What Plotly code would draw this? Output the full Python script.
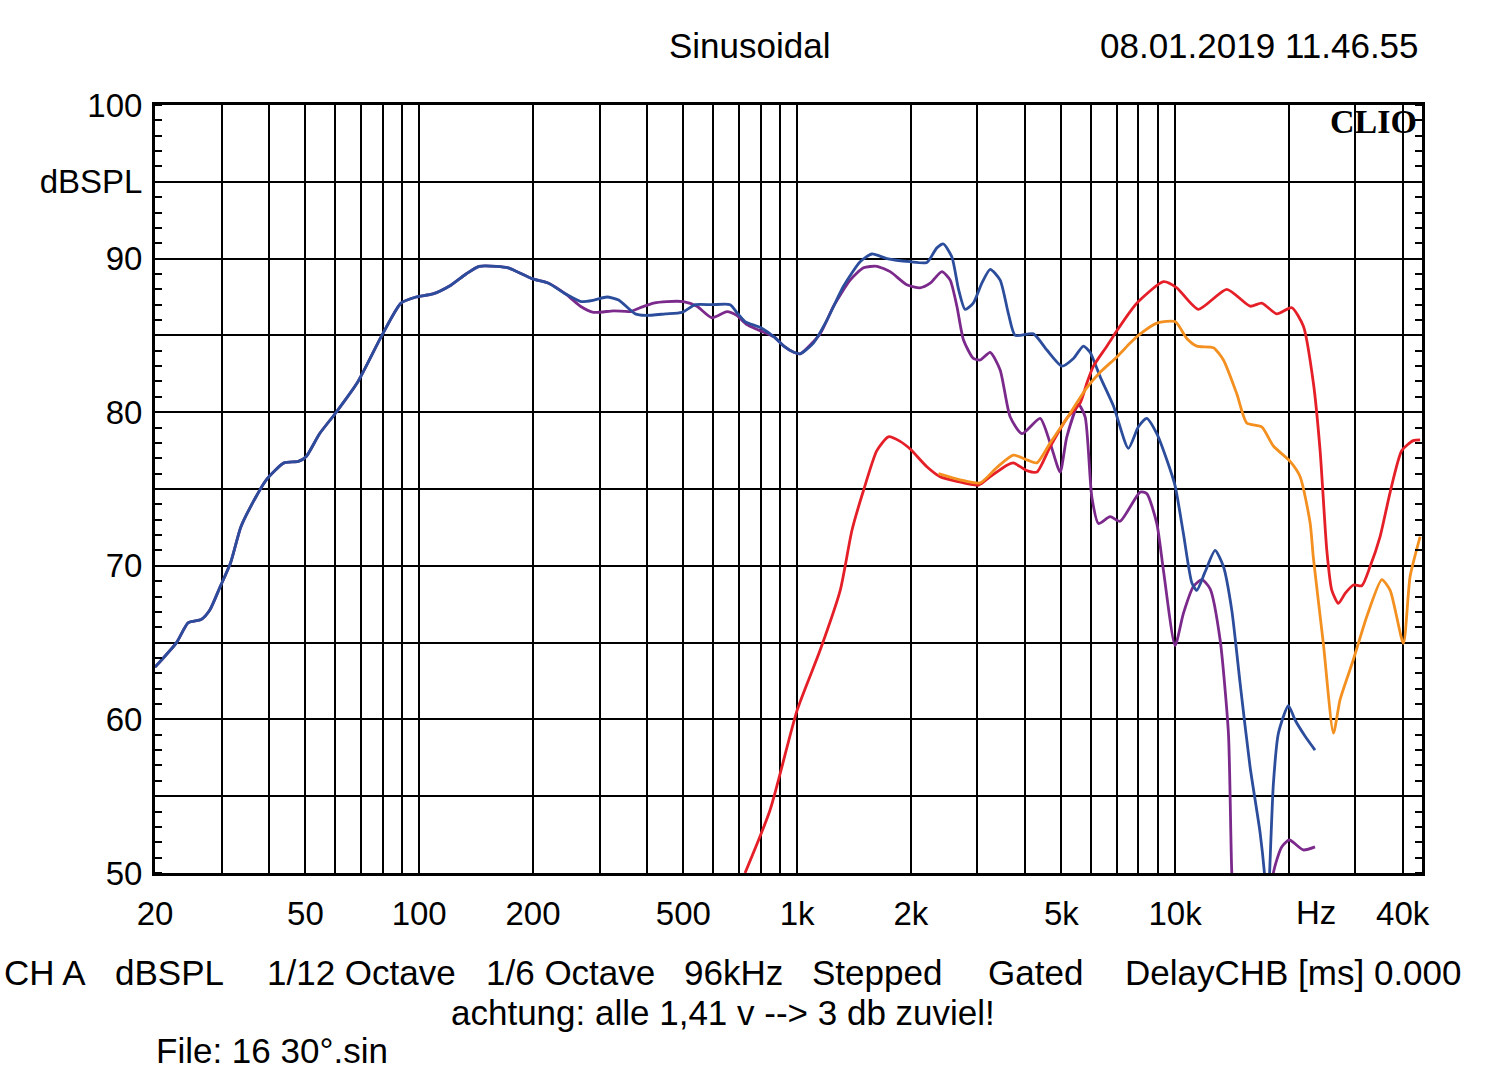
import numpy as np
import plotly.graph_objects as go

# ---------------- data ----------------
blue_f = [20, 22.8, 24.5, 26.5, 27.9, 29.7, 31.7, 33.7, 35.9, 39.4, 43.9, 47.9, 50.2, 54.5, 59.9,
          68.9, 79.3, 89.5, 98.1, 108.7, 120, 133, 144, 160, 172, 198.7, 220, 244, 268, 290, 314,
          337, 373, 397, 448, 496, 538, 594, 665, 692, 728, 802, 869, 922, 980,
          1018, 1104, 1199, 1326, 1468, 1577, 1727, 1991, 2204, 2342, 2438, 2567, 2673, 2782,
          2924, 3081, 3241, 3444, 3623, 3774, 4219, 4578, 5015, 5383, 5719, 5956, 6335, 6870,
          7522, 7995, 8415, 8946, 9506, 10000, 10518, 11070, 11411, 12004, 12757, 13423, 14125,
          14859, 15790, 16787, 17300, 17550, 17750, 18197, 18763, 19937, 20773, 22080, 23450]
blue_db = [63.4, 65.0, 66.3, 66.5, 67.1, 68.6, 70.2, 72.5, 73.9, 75.6, 76.7, 76.8, 77.1, 78.6, 79.9,
           82.0, 84.9, 87.1, 87.5, 87.7, 88.2, 89.0, 89.5, 89.5, 89.4, 88.7, 88.4, 87.7, 87.2, 87.3, 87.5,
           87.3, 86.4, 86.3, 86.4, 86.5, 87.0, 87.0, 87.0, 86.5, 85.9, 85.5, 84.9, 84.3, 83.9,
           83.8, 84.5, 86.0, 88.2, 89.8, 90.3, 90.0, 89.8, 89.75, 90.7, 90.95, 90.1, 88.0, 86.7,
           87.1, 88.4, 89.3, 88.6, 86.4, 85.0, 85.1, 84.05, 83.0, 83.5, 84.3, 83.9, 82.3, 80.4,
           77.65, 79.05, 79.6, 78.6, 76.9, 75.2, 72.1, 68.9, 68.4, 69.6, 71.0, 69.95, 67.1,
           62.35, 56.9, 52.6, 49.5, 47.0, 49.5, 55.8, 59.1, 60.9, 59.96, 58.9, 58.0]

purple_f = [20, 22.8, 24.5, 26.5, 27.9, 29.7, 31.7, 33.7, 35.9, 39.4, 43.9, 47.9, 50.2, 54.5, 59.9,
            68.9, 79.3, 89.5, 98.1, 108.7, 120, 133, 144, 160, 172, 198.7, 220, 244,
            267, 289, 327, 362, 384, 417, 452, 500, 543, 595, 652, 692, 736, 782, 869, 922, 980,
            1018, 1150, 1248, 1381, 1498, 1625, 1762, 1950, 2115, 2249, 2415, 2540, 2646, 2755,
            2926, 3050, 3241, 3444, 3660, 3930, 4395, 4670, 4963, 5170, 5550, 5780, 6019, 6268,
            6730, 7151, 8081, 8415, 8946, 9313, 10000, 10518, 11179, 11765, 12377, 13151, 13838,
            14125, 14600, 17700, 18197, 19142, 20062, 21840, 23450]
purple_db = [63.4, 65.0, 66.3, 66.5, 67.1, 68.6, 70.2, 72.5, 73.9, 75.6, 76.7, 76.8, 77.1, 78.6, 79.9,
             82.0, 84.9, 87.1, 87.5, 87.7, 88.2, 89.0, 89.5, 89.5, 89.4, 88.7, 88.4, 87.7,
             86.9, 86.5, 86.6, 86.55, 86.8, 87.1, 87.2, 87.2, 86.9, 86.15, 86.55, 86.3, 85.7, 85.4, 84.9, 84.3, 83.9,
             83.8, 85.1, 86.9, 88.6, 89.4, 89.5, 89.15, 88.3, 88.1, 88.4, 89.15, 88.6, 86.9, 84.7,
             83.5, 83.4, 83.9, 82.75, 79.7, 78.6, 79.6, 78.0, 76.1, 78.4, 80.5, 79.7, 74.5, 72.75,
             73.2, 72.9, 74.8, 74.7, 72.75, 69.7, 64.8, 66.9, 68.65, 69.1, 68.5, 65.2, 59.1,
             50.0, 44.0, 44.0, 50.0, 51.7, 52.15, 51.5, 51.7]

red_f = [728, 848, 1000, 1150, 1300, 1396, 1498, 1625, 1744, 1873, 1991, 2204, 2389, 2646, 3018,
         3241, 3589, 3734, 4053, 4306, 4670, 5170, 5607, 5842, 6080, 6598, 7012, 7604, 7995, 9313,
         10104, 11523, 13700, 15790, 16950, 18580, 20357, 21850, 23220, 24190, 25200, 25980, 27040,
         28170, 29630, 31190, 32800, 34860, 37070, 39790, 42670, 44490]
red_db = [50.0, 54.1, 60.6, 64.5, 68.4, 72.3, 74.9, 77.5, 78.4, 78.1, 77.6, 76.45, 75.8, 75.5, 75.25,
          75.8, 76.55, 76.7, 76.2, 76.1, 77.75, 79.6, 80.6, 81.9, 83.0, 84.3, 85.3, 86.55, 87.2, 88.5,
          88.1, 86.7, 88.0, 86.9, 87.1, 86.4, 86.8, 85.6, 81.9, 77.5, 71.0, 68.4, 67.55,
          68.2, 68.75, 68.7, 69.95, 71.9, 74.8, 77.5, 78.15, 78.2]

orange_f = [2365, 2700, 3050, 3375, 3734, 4053, 4306, 4670, 5170, 5842, 6335, 7012, 7604, 7995,
            8946, 10000, 10738, 11411, 12630, 13423, 14560, 15475, 16950, 18197, 20150, 21420,
            22760, 23220, 24670, 26240, 27330, 29630, 32150, 35230, 37070, 40180, 41850, 44490]
orange_db = [76.0, 75.6, 75.4, 76.4, 77.2, 76.9, 76.7, 78.0, 79.6, 81.6, 82.6, 83.6, 84.5, 85.0,
             85.8, 85.9, 84.8, 84.3, 84.2, 83.4, 81.2, 79.3, 79.05, 77.8, 76.8, 75.8,
             72.8, 70.5, 64.95, 59.1, 61.3, 63.9, 66.7, 69.1, 68.4, 64.95, 69.3, 71.9]

x_grid = [20, 30, 40, 50, 60, 70, 80, 90,
          100, 200, 300, 400, 500, 600, 700, 800, 900,
          1000, 2000, 3000, 4000, 5000, 6000, 7000, 8000, 9000,
          10000, 20000, 30000, 40000]
x_label_map = {20: "20", 50: "50", 100: "100", 200: "200", 500: "500", 1000: "1k",
               2000: "2k", 5000: "5k", 10000: "10k", 40000: "40k"}
y_ticks = [50, 55, 60, 65, 70, 75, 80, 85, 90, 95, 100]
y_labels = ["50", "", "60", "", "70", "", "80", "", "90", "dBSPL", "100"]

footer_items = [("CH A", 2), ("dBSPL", 113), ("1/12 Octave", 265), ("1/6 Octave", 484),
                ("96kHz", 682), ("Stepped", 810), ("Gated", 986), ("DelayCHB [ms] 0.000", 1123)]

# ---------------- figure ----------------
W, H = 1500, 1086
ML, MR, MT, MB = 155, 78, 105, 213
FONT = "Liberation Sans, Arial, sans-serif"
FS_TICK = 33
FS = 35

fig = go.Figure()
series = [
    (purple_f, purple_db, "#7b2a8c"),
    (blue_f, blue_db, "#2b4d9c"),
    (red_f, red_db, "#e51f28"),
    (orange_f, orange_db, "#f39020"),
]
for f, db, col in series:
    fig.add_trace(go.Scatter(x=f, y=db, mode="lines",
                             line=dict(color=col, width=2.8, shape="spline", smoothing=0.6),
                             showlegend=False, hoverinfo="skip"))

fig.update_layout(
    width=W, height=H,
    margin=dict(l=ML, r=MR, t=MT, b=MB),
    paper_bgcolor="white", plot_bgcolor="white",
    font=dict(family=FONT, size=FS, color="black"),
    xaxis=dict(type="log", range=[np.log10(20), np.log10(45000)],
               tickmode="array", tickvals=x_grid,
               ticktext=[x_label_map.get(v, "") for v in x_grid],
               showgrid=True, gridcolor="black", gridwidth=2,
               showline=True, linecolor="black", linewidth=3, mirror=True,
               ticks="", ticklabelstandoff=9, zeroline=False,
               tickfont=dict(family=FONT, size=FS_TICK, color="black")),
    yaxis=dict(range=[50, 100], tickmode="array", tickvals=y_ticks, ticktext=y_labels,
               showgrid=True, gridcolor="black", gridwidth=2,
               showline=True, linecolor="black", linewidth=3, mirror="ticks",
               ticks="", ticklabelstandoff=3, zeroline=False,
               tickfont=dict(family=FONT, size=FS_TICK, color="black"),
               minor=dict(ticks="inside", tick0=50, dtick=1, ticklen=7, tickwidth=2,
                          tickcolor="black", showgrid=False)),
)

ann = []
ann.append(dict(text="Sinusoidal", x=750, y=H - 45))
ann.append(dict(text="08.01.2019 11.46.55", x=1421, y=H - 45, xanchor="right"))
ann.append(dict(text="CLIO", x=1419, y=H - 122, xanchor="right",
                font=dict(family="Liberation Serif, Times New Roman, serif", size=34, color="black"),
                bold=True))
for txt, xl in footer_items:
    ann.append(dict(text=txt, x=xl, y=H - 972, xanchor="left"))
ann.append(dict(text="achtung: alle 1,41 v --> 3 db zuviel!", x=723, y=H - 1012))
ann.append(dict(text="File: 16 30°.sin", x=154, y=H - 1050, xanchor="left"))

for a in ann:
    bold = a.pop("bold", False)
    txt = a.pop("text")
    if bold:
        txt = "<b>" + txt + "</b>"
    xpx, ypx = a.pop("x"), a.pop("y")
    fig.add_annotation(text=txt, x=(xpx - ML) / (W - ML - MR),
                       y=(ypx - MB) / (H - MT - MB),
                       xref="paper", yref="paper", showarrow=False,
                       xanchor=a.pop("xanchor", "center"), yanchor="middle",
                       font=a.pop("font", dict(family=FONT, size=FS, color="black")))

# "Hz" unit label placed among the x tick labels
fig.add_annotation(text="Hz", x=np.log10(23600), y=(H - 912 - MB) / (H - MT - MB),
                   xref="x", yref="paper", showarrow=False, yanchor="middle",
                   font=dict(family=FONT, size=FS_TICK, color="black"))

fig.write_html("out.html")
